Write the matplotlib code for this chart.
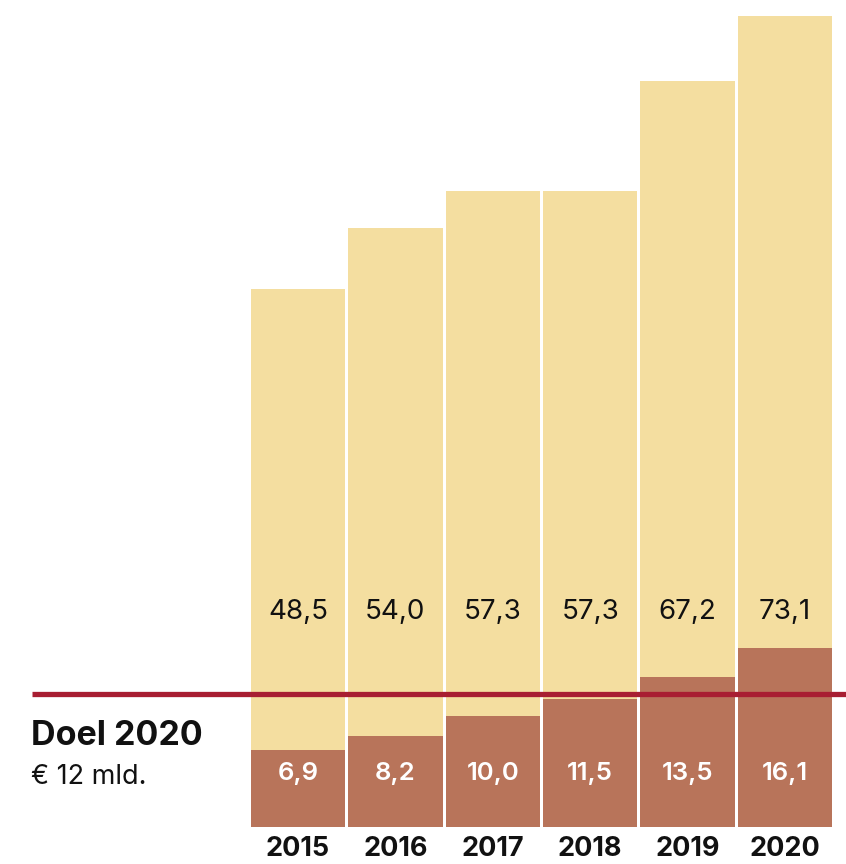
import matplotlib
matplotlib.use("Agg")
import matplotlib.pyplot as plt

years = ["2015", "2016", "2017", "2018", "2019", "2020"]
totaal = [48.5, 54.0, 57.3, 57.3, 67.2, 73.1]
duurzaam = [6.9, 8.2, 10.0, 11.5, 13.5, 16.1]
doel = 12

tan = "#f4dea0"
brick = "#b8745a"
red = "#a81e32"

plt.rcParams["font.family"] = ["Inter", "DejaVu Sans"]

fig = plt.figure(figsize=(8.46, 8.64), dpi=100)
ax = fig.add_axes([0, 0, 1, 1])

x = list(range(len(years)))
pitch = 97.4
ax.bar(x, totaal, width=0.968, color=tan, zorder=1)
ax.bar(x, duurzaam, width=0.968, color=brick, zorder=2)

for i in x:
    ax.text(i, 19.4, f"{totaal[i]:.1f}".replace(".", ","), ha="center", va="center",
            fontsize=20, color="#111111", zorder=4)
    ax.text(i, 4.8, f"{duurzaam[i]:.1f}".replace(".", ","), ha="center", va="center",
            fontsize=18.5, color="white", fontweight="semibold", zorder=4)
    ax.text(i, -2.0, years[i], ha="center", va="center", fontsize=19.5,
            color="#111111", fontweight="bold", zorder=4)

# target line over the bars
x0 = -298 / pitch
ax.plot([(32 - 298) / pitch, (846 - 298) / pitch], [doel, doel], color=red,
        lw=3.8, solid_capstyle="butt", zorder=3)
ax.text(x0 + 31 / pitch, 8.2, "Doel 2020", ha="left", va="center", fontsize=24.5,
        fontweight="bold", color="#111111")
ax.text(x0 + 31 / pitch, 4.5, "€ 12 mld.", ha="left", va="center", fontsize=19.5,
        color="#111111")

ax.set_xlim(x0, (846 - 298) / pitch)
ax.set_ylim(-37 / 11.094, (864 - 37) / 11.094)
ax.axis("off")

fig.savefig("out.png", dpi=100, facecolor="white")
